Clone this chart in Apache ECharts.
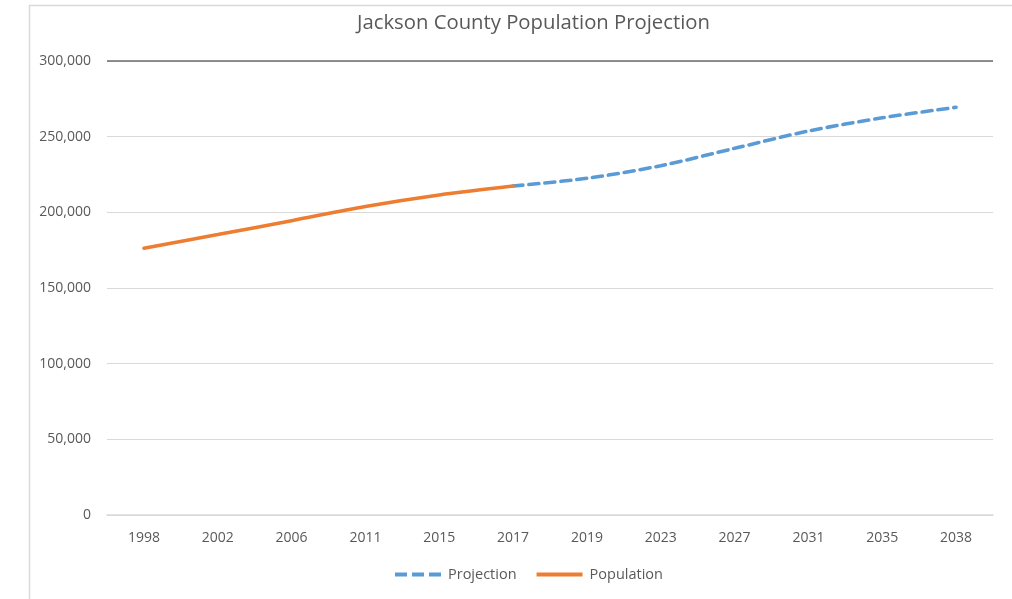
<!DOCTYPE html>
<html>
<head>
<meta charset="utf-8">
<title>Jackson County Population Projection</title>
<script src="https://cdn.jsdelivr.net/npm/echarts@6/dist/echarts.min.js"></script>
<style>
  html, body { margin: 0; padding: 0; background: #ffffff; }
  #chart { width: 1012px; height: 599px; }
</style>
</head>
<body>
<div id="chart"></div>
<script>
// Years shown along the category axis
const years = ['1998', '2002', '2006', '2011', '2015', '2017', '2019', '2023', '2027', '2031', '2035', '2038'];

// Recorded population (through 2017)
const population = [176300, 185300, 194500, 203900, 211500, 217400, null, null, null, null, null, null];

// Projected population (from 2017 onward)
const projection = [null, null, null, null, null, 217400, 222500, 230800, 242300, 253700, 262500, 269400];

// Value axis range
const yMin = 0;
const yMax = 300000;
const yStep = 50000;

const textColor = '#595959';
const gridColor = '#d9d9d9';
const blue = '#5b9bd5';
const orange = '#ed7d31';

const chart = echarts.init(document.getElementById('chart'), null, { renderer: 'canvas' });

chart.setOption({
  backgroundColor: '#ffffff',
  animation: false,
  title: {
    text: 'Jackson County Population Projection',
    left: 352,
    top: 8,
    textStyle: {
      fontFamily: 'Open Sans',
      fontSize: 20.3,
      fontWeight: 'normal',
      color: textColor
    }
  },
  graphic: [{
    type: 'rect',
    silent: true,
    shape: { x: 29.5, y: 5.5, width: 1000, height: 620 },
    style: { fill: 'none', stroke: gridColor, lineWidth: 1.5 }
  }],
  legend: {
    bottom: 12,
    left: 390,
    itemWidth: 46,
    itemHeight: 4,
    itemGap: 20,
    textStyle: { fontFamily: 'Open Sans', fontSize: 14.5, color: textColor, padding: [0, 0, 0, 2] },
    data: [
      { name: 'Projection', icon: 'path://M0,0h12v4h-12z M17,0h12v4h-12z M34,0h12v4h-12z' },
      { name: 'Population', icon: 'rect' }
    ]
  },
  grid: {
    left: 107,
    right: 19,
    top: 61,
    bottom: 84,
    containLabel: false
  },
  xAxis: {
    type: 'category',
    data: years,
    boundaryGap: true,
    axisLine: { lineStyle: { color: gridColor, width: 1.5 } },
    axisTick: { show: false },
    axisLabel: {
      fontFamily: 'Open Sans',
      fontSize: 14,
      color: textColor,
      margin: 16
    },
    splitLine: { show: false }
  },
  yAxis: {
    type: 'value',
    min: yMin,
    max: yMax,
    interval: yStep,
    axisLine: { show: false },
    axisTick: { show: false },
    axisLabel: {
      fontFamily: 'Open Sans',
      fontSize: 14,
      color: textColor,
      margin: 16,
      formatter: v => v.toLocaleString('en-US')
    },
    splitLine: { lineStyle: { color: gridColor, width: 1.2 } }
  },
  series: [
    {
      name: 'Projection',
      type: 'line',
      data: projection,
      smooth: 0.3,
      symbol: 'none',
      showSymbol: false,
      connectNulls: false,
      itemStyle: { color: blue },
      lineStyle: { color: blue, width: 3.6, type: [10, 6], cap: 'round' },
      markLine: {
        silent: true,
        symbol: 'none',
        label: { show: false },
        lineStyle: { color: '#6b6b6b', width: 1.5, type: 'solid' },
        data: [{ yAxis: yMax }]
      }
    },
    {
      name: 'Population',
      type: 'line',
      data: population,
      smooth: 0.3,
      symbol: 'none',
      showSymbol: false,
      itemStyle: { color: orange },
      lineStyle: { color: orange, width: 3.6, cap: 'round' }
    }
  ]
});
</script>
</body>
</html>
